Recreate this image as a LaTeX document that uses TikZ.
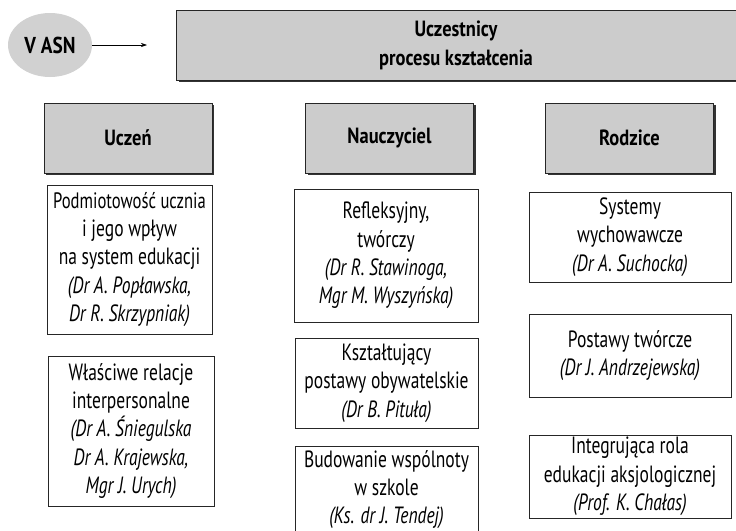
\documentclass[tikz,border=0pt]{standalone}
\usepackage{fontspec}
\setmainfont{PT Sans}[FakeStretch=0.745]
\newfontfamily\hdrfont{PT Sans}[FakeStretch=0.84]
\usetikzlibrary{arrows.meta,shapes.geometric}
\tikzset{
  box/.style={draw=black!85, line width=0.8pt, align=center, inner sep=0pt, font=\fontsize{23.5}{28.3}\selectfont},
  hdr/.style={draw=black!85, line width=0.8pt, fill=black!20, align=center, inner sep=0pt,
     font=\hdrfont\fontsize{22}{29}\selectfont\bfseries},
  shadowline/.style={line width=2pt, black!80},
  arr/.style={-{Stealth[length=6pt,width=4pt]}, line width=0.6pt}
}
\begin{document}
\begin{tikzpicture}[x=1pt,y=-1pt]
\useasboundingbox (0,0) rectangle (736,530);
\clip (0,0) rectangle (736,530);
% ellipse
\node[ellipse, fill=black!18, minimum width=84pt, minimum height=64pt, inner sep=0pt,
  font=\hdrfont\fontsize{23}{24}\selectfont\bfseries] (vasn) at (50,45) {V ASN};
\coordinate (arrend) at (147,45);
\draw[arr] (vasn.east) -- (arrend);
% top box
\draw[shadowline] (179,81) -- (736,81);
\node[hdr, minimum width=560pt, minimum height=70pt] (top) at (456,45) {Uczestnicy\\procesu kształcenia};
% header boxes
\foreach \n/\cx/\t in {ucz/128/Uczeń, nau/389.5/Nauczyciel, rod/629.5/Rodzice}{
  \draw[shadowline] (\cx-82,174) -- (\cx+85,174) -- (\cx+85,105);
  \node[hdr, minimum width=168pt, minimum height=70pt] (\n) at (\cx,138) {\t};
}
% column 1
\node[box, minimum width=165pt, minimum height=149pt] (p1) at (129.5,259.5)
 {{\fontsize{22.3}{28.3}\selectfont Podmiotowość ucznia}\\i jego wpływ\\na system edukacji\\\itshape(Dr A. Popławska,\\\itshape Dr R. Skrzypniak)};
\node[box, minimum width=166pt, minimum height=150pt] (p2) at (131,431)
 {Właściwe relacje\\interpersonalne\\\itshape(Dr A. Śniegulska\\\itshape Dr A. Krajewska,\\\itshape Mgr J. Urych)};
% column 2
\node[box, minimum width=184pt, minimum height=133pt] (n1) at (386,255.5)
 {Refleksyjny,\\twórczy\\\itshape(Dr R. Stawinoga,\\\itshape Mgr M. Wyszyńska)};
\node[box, minimum width=183pt, minimum height=90pt] (n2) at (386.5,383)
 {Kształtujący\\postawy obywatelskie\\\itshape(Dr B. Pituła)};
\node[box, minimum width=183pt, minimum height=100pt] (n3) at (386.5,496) {};
\node[box, draw=none, anchor=north] (n3t) at (386.5,450)
 {Budowanie wspólnoty\\w szkole\\\itshape(Ks. dr J. Tendej)};
% column 3
\node[box, minimum width=202pt, minimum height=90pt] (r1) at (630,237)
 {Systemy\\wychowawcze\\\itshape(Dr A. Suchocka)};
\node[box, minimum width=202pt, minimum height=83pt] (r2) at (630,355.5)
 {Postawy twórcze\\\itshape(Dr J. Andrzejewska)};
\node[box, minimum width=202pt, minimum height=83pt] (r3) at (630,476.5)
 {Integrująca rola\\edukacji aksjologicznej\\\itshape(Prof. K. Chałas)};
\end{tikzpicture}
\end{document}
